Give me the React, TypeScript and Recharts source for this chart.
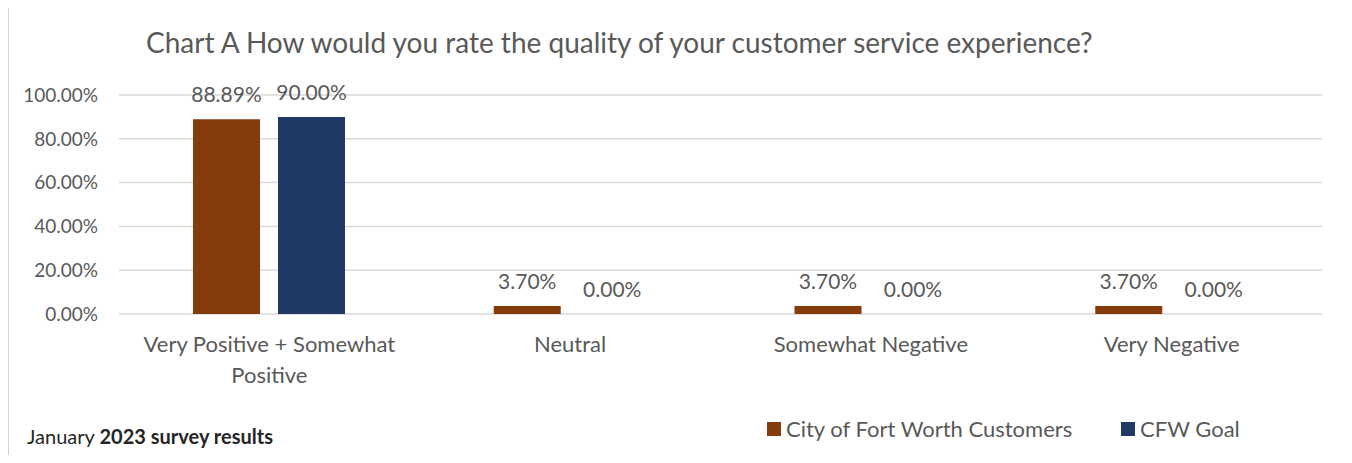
import React from 'react';
import { BarChart, Bar, XAxis, YAxis, CartesianGrid, LabelList, Legend } from 'recharts';

const categories = ['Very Positive + Somewhat Positive', 'Neutral', 'Somewhat Negative', 'Very Negative'];
const categoryLines = [['Very Positive + Somewhat', 'Positive'], ['Neutral'], ['Somewhat Negative'], ['Very Negative']];
const customers = [0.8889, 0.037, 0.037, 0.037];
const goal = [0.9, 0, 0, 0];
const yTicks = [0, 0.2, 0.4, 0.6, 0.8, 1.0];
const seriesKeys = ['customers', 'goal'];
const seriesNames = ['City of Fort Worth Customers', 'CFW Goal'];
const seriesColors = ['#843C0C', '#1F3864'];
const titleText = 'Chart A How would you rate the quality of your customer service experience?';

const data = categories.map((c, i) => ({ category: c, customers: customers[i], goal: goal[i] }));

const FONT = 'Lato, "Open Sans", sans-serif';
const GRAY = '#595959';
const BORDER = '#D4D4D4';
const pct = (v: any) => (Number(v) * 100).toFixed(2) + '%';

const CategoryTick = (props: any) => {
  const { x, y, payload, index } = props;
  const idx = categories.indexOf(payload.value);
  const lines = categoryLines[idx >= 0 ? idx : index] || [String(payload.value)];
  return (
    <text x={x} y={y} textAnchor="middle" fill={GRAY} fontSize={22} fontFamily={FONT}>
      {lines.map((l: string, i: number) => (
        <tspan key={i} x={x} dy={i === 0 ? 16 : 31}>{l}</tspan>
      ))}
    </text>
  );
};

const legendLefts = [767, 1121];

const LegendContent = () => (
  <div style={{ position: 'relative', width: 1352, height: 40 }}>
    {seriesNames.map((n, i) => (
      <div key={n} style={{ position: 'absolute', left: legendLefts[i], top: 22, height: 14, display: 'flex', alignItems: 'center', whiteSpace: 'nowrap' }}>
        <div style={{ width: 14, height: 14, background: seriesColors[i], marginRight: 5 }} />
        <span style={{ fontFamily: FONT, fontSize: 22, color: GRAY, lineHeight: '14px' }}>{n}</span>
      </div>
    ))}
  </div>
);

export default function App() {
  return (
    <div style={{ position: 'relative', margin: -8, width: 1352, height: 463, overflow: 'hidden', background: '#fff' }}>
      <div style={{ position: 'absolute', left: 0, top: 0 }}>
        <BarChart
          width={1352}
          height={463}
          data={data}
          margin={{ top: 95, right: 30, bottom: 19, left: 0 }}
          barSize={67}
          barGap={18}
        >
          <CartesianGrid vertical={false} stroke="#D9D9D9" strokeWidth={1.5} />
          <XAxis
            dataKey="category"
            axisLine={false}
            tickLine={false}
            tickSize={0}
            tickMargin={22}
            height={90}
            interval={0}
            tick={<CategoryTick />}
          />
          <YAxis
            domain={[0, 1]}
            ticks={yTicks}
            width={119}
            axisLine={false}
            tickLine={false}
            tickSize={0}
            tickMargin={21}
            tickFormatter={pct}
            tick={{ fill: GRAY, fontSize: 19, fontFamily: FONT }}
          />
          <Legend
            verticalAlign="bottom"
            content={<LegendContent />}
            wrapperStyle={{ position: 'absolute', left: 0, top: 400, bottom: 'auto', width: 1352, height: 40 }}
          />
          {seriesKeys.map((k, i) => (
            <Bar key={k} dataKey={k} name={seriesNames[i]} fill={seriesColors[i]} minPointSize={0.01} isAnimationActive={false}>
              <LabelList
                dataKey={k}
                position="top"
                offset={17}
                formatter={pct}
                fill={GRAY}
                fontSize={21}
                fontFamily={FONT}
              />
            </Bar>
          ))}
        </BarChart>
      </div>
      <svg width={1352} height={463} style={{ position: 'absolute', left: 0, top: 0, pointerEvents: 'none' }}>
        <text x={146} y={53} fill={GRAY} fontSize={28} fontFamily={FONT}>{titleText}</text>
        <text x={27} y={444} fill="#262626" fontSize={20} fontFamily={FONT}>
          January <tspan fontWeight="bold">2023 survey results</tspan>
        </text>
      </svg>
      <div style={{ position: 'absolute', left: 6, top: 4, width: 1346, height: 3, background: BORDER }} />
      <div style={{ position: 'absolute', left: 6, top: 4, width: 3, height: 470, background: BORDER }} />
      <div style={{ position: 'absolute', left: 1349, top: 4, width: 3, height: 470, background: BORDER }} />
    </div>
  );
}
